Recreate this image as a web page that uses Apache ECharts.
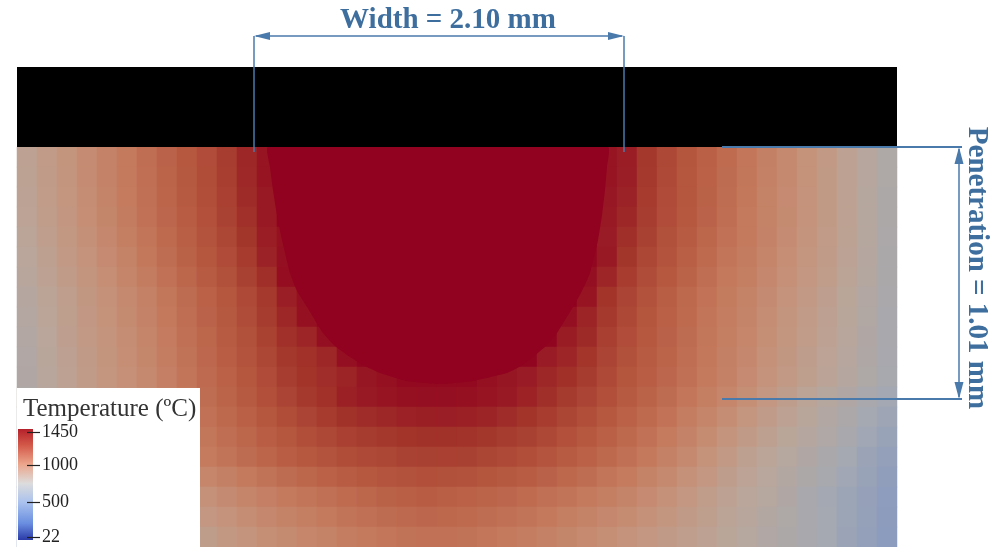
<!DOCTYPE html>
<html>
<head>
<meta charset="utf-8">
<script src="https://cdn.jsdelivr.net/npm/echarts/dist/echarts.min.js"></script>
<style>
html, body { margin: 0; padding: 0; background: #ffffff; }
#chart { width: 995px; height: 547px; }
</style>
</head>
<body>
<div id="chart"></div>
<script>
// Temperature (ºC) in the cross-section, one array per row of cells,
// from the top surface downwards; each row runs left to right.
const depth00 = [735, 790, 838, 890, 942, 997, 1048, 1098, 1148, 1198, 1262, 1340, 1395, 1450, 1450, 1450, 1450, 1450, 1450, 1450, 1450, 1450, 1450, 1450, 1450, 1450, 1450, 1450, 1450, 1395, 1370, 1282, 1216, 1162, 1112, 1062, 1012, 958, 907, 857, 800, 741, 680, 620];
const depth01 = [733, 786, 835, 890, 940, 994, 1045, 1095, 1145, 1195, 1258, 1336, 1392, 1450, 1450, 1450, 1450, 1450, 1450, 1450, 1450, 1450, 1450, 1450, 1450, 1450, 1450, 1450, 1450, 1392, 1365, 1279, 1213, 1160, 1110, 1060, 1010, 956, 905, 855, 798, 738, 676, 616];
const depth02 = [729, 781, 830, 885, 935, 989, 1040, 1090, 1140, 1190, 1251, 1326, 1385, 1450, 1450, 1450, 1450, 1450, 1450, 1450, 1450, 1450, 1450, 1450, 1450, 1450, 1450, 1450, 1450, 1388, 1355, 1272, 1206, 1155, 1105, 1055, 1005, 950, 900, 850, 795, 735, 673, 612];
const depth03 = [722, 775, 823, 877, 927, 980, 1033, 1083, 1133, 1183, 1242, 1313, 1380, 1450, 1450, 1450, 1450, 1450, 1450, 1450, 1450, 1450, 1450, 1450, 1450, 1450, 1450, 1450, 1450, 1385, 1340, 1262, 1198, 1148, 1098, 1048, 997, 947, 897, 848, 795, 735, 675, 612];
const depth04 = [712, 763, 812, 865, 915, 966, 1020, 1070, 1120, 1170, 1226, 1293, 1368, 1405, 1450, 1450, 1450, 1450, 1450, 1450, 1450, 1450, 1450, 1450, 1450, 1450, 1450, 1450, 1450, 1375, 1318, 1245, 1185, 1135, 1085, 1035, 993, 940, 890, 842, 790, 732, 672, 605];
const depth05 = [700, 750, 800, 850, 900, 950, 1005, 1055, 1105, 1155, 1206, 1272, 1355, 1410, 1450, 1450, 1450, 1450, 1450, 1450, 1450, 1450, 1450, 1450, 1450, 1450, 1450, 1450, 1435, 1385, 1293, 1226, 1170, 1120, 1070, 1020, 980, 930, 880, 832, 785, 728, 668, 600];
const depth06 = [685, 735, 785, 835, 880, 930, 983, 1035, 1085, 1135, 1185, 1245, 1318, 1417, 1450, 1450, 1450, 1450, 1450, 1450, 1450, 1450, 1450, 1450, 1450, 1450, 1450, 1450, 1410, 1345, 1265, 1200, 1150, 1100, 1050, 1000, 965, 917, 867, 822, 775, 720, 660, 597];
const depth07 = [665, 718, 765, 815, 860, 905, 955, 1010, 1060, 1110, 1160, 1213, 1279, 1365, 1410, 1450, 1450, 1450, 1450, 1450, 1450, 1450, 1450, 1450, 1450, 1450, 1450, 1450, 1395, 1300, 1232, 1175, 1125, 1075, 1025, 985, 945, 895, 847, 800, 755, 705, 648, 592];
const depth08 = [656, 710, 758, 808, 853, 896, 944, 998, 1049, 1099, 1147, 1199, 1268, 1342, 1405, 1440, 1450, 1450, 1450, 1450, 1450, 1450, 1450, 1450, 1450, 1450, 1450, 1410, 1350, 1278, 1215, 1162, 1115, 1067, 1018, 976, 934, 884, 836, 790, 745, 696, 641, 587];
const depth09 = [647, 702, 752, 801, 845, 887, 933, 986, 1038, 1088, 1135, 1184, 1243, 1313, 1345, 1410, 1450, 1450, 1450, 1450, 1450, 1450, 1450, 1450, 1450, 1450, 1440, 1372, 1330, 1256, 1198, 1149, 1104, 1059, 1011, 968, 923, 873, 826, 780, 735, 686, 633, 581];
const depth10 = [638, 693, 745, 793, 838, 879, 921, 975, 1027, 1077, 1122, 1170, 1224, 1282, 1310, 1340, 1410, 1440, 1450, 1450, 1450, 1450, 1450, 1450, 1450, 1440, 1375, 1345, 1294, 1235, 1181, 1135, 1094, 1050, 1003, 959, 911, 861, 815, 769, 724, 677, 626, 576];
const depth11 = [629, 685, 739, 786, 830, 870, 910, 963, 1016, 1066, 1110, 1155, 1206, 1261, 1300, 1320, 1350, 1390, 1405, 1430, 1430, 1430, 1430, 1405, 1390, 1375, 1340, 1312, 1267, 1213, 1164, 1122, 1083, 1042, 996, 951, 900, 850, 805, 759, 714, 667, 618, 570];
const depth12 = [620, 677, 732, 779, 823, 861, 899, 951, 1005, 1055, 1097, 1141, 1188, 1235, 1279, 1310, 1359, 1382, 1395, 1405, 1410, 1410, 1405, 1395, 1380, 1354, 1316, 1276, 1235, 1188, 1140, 1100, 1060, 1015, 970, 925, 875, 820, 770, 720, 675, 630, 585, 545];
const depth13 = [594, 649, 703, 752, 799, 841, 882, 933, 985, 1033, 1073, 1114, 1156, 1197, 1235, 1270, 1305, 1325, 1343, 1358, 1364, 1365, 1361, 1347, 1324, 1300, 1266, 1229, 1193, 1150, 1107, 1067, 1025, 978, 932, 885, 833, 783, 737, 692, 648, 605, 558, 518];
const depth14 = [567, 620, 673, 726, 776, 820, 865, 914, 964, 1010, 1048, 1087, 1123, 1159, 1192, 1221, 1250, 1269, 1285, 1300, 1305, 1307, 1303, 1289, 1268, 1247, 1215, 1182, 1152, 1113, 1073, 1033, 990, 942, 893, 845, 792, 747, 703, 663, 622, 580, 532, 492];
const depth15 = [541, 592, 644, 699, 752, 800, 848, 896, 944, 988, 1024, 1060, 1091, 1121, 1148, 1172, 1196, 1212, 1226, 1241, 1247, 1249, 1244, 1230, 1212, 1193, 1165, 1135, 1110, 1075, 1040, 1000, 955, 905, 855, 805, 750, 710, 670, 635, 595, 555, 505, 465];
const depth16 = [494, 540, 587, 634, 682, 730, 778, 826, 874, 925, 960, 995, 1027, 1059, 1084, 1108, 1131, 1150, 1166, 1179, 1188, 1185, 1176, 1163, 1147, 1128, 1104, 1078, 1053, 1020, 988, 950, 908, 863, 817, 770, 725, 690, 651, 610, 570, 533, 490, 450];
const depth17 = [446, 488, 529, 569, 612, 660, 708, 756, 804, 862, 895, 929, 963, 997, 1020, 1043, 1065, 1088, 1105, 1116, 1128, 1120, 1108, 1095, 1082, 1063, 1042, 1021, 995, 965, 935, 900, 860, 820, 778, 735, 700, 670, 632, 585, 545, 510, 475, 435];
const depth18 = [431, 469, 507, 547, 588, 632, 676, 722, 768, 818, 852, 887, 918, 948, 972, 997, 1021, 1042, 1059, 1072, 1082, 1079, 1068, 1055, 1039, 1021, 998, 974, 948, 920, 892, 861, 827, 793, 757, 720, 686, 655, 621, 583, 549, 508, 470, 430];
const depth19 = [416, 449, 484, 524, 564, 604, 644, 687, 731, 773, 809, 845, 872, 898, 924, 950, 976, 995, 1013, 1028, 1035, 1037, 1027, 1014, 996, 978, 953, 927, 901, 875, 849, 821, 793, 765, 735, 704, 671, 640, 610, 580, 552, 505, 465, 425];

const fieldRows = [depth00, depth01, depth02, depth03, depth04, depth05, depth06, depth07, depth08, depth09,
                   depth10, depth11, depth12, depth13, depth14, depth15, depth16, depth17, depth18, depth19];

// Outline of the fused zone (≥ 1450 ºC), in cell units: column position and depth
const poolEdgeCol = [12.55, 12.65, 12.8, 13.0, 13.25, 13.65, 14.0, 14.5, 15.3, 15.9, 16.65, 17.4, 18.15, 19.5, 21.15,
                     22.8, 24.5, 25.2, 25.8, 26.45, 27.0, 27.8, 28.25, 28.65, 29.05, 29.25, 29.4, 29.5, 29.55];
const poolEdgeRow = [0, 1, 2.15, 3.4, 4.65, 6.3, 7.2, 8.0, 9.3, 9.95, 10.5, 10.95, 11.3, 11.7, 11.85,
                     11.7, 11.3, 10.95, 10.5, 9.95, 9.3, 8.0, 7.2, 6.3, 4.65, 3.4, 2.15, 1, 0];

// Colour bar of the legend
const legendTitle = 'Temperature (ºC)';
const legendTicks = [1450, 1000, 500, 22];
const legendMin = 22;
const legendMax = 1450;

// Bead dimensions
const widthLabel = 'Width = 2.10 mm';
const penetrationLabel = 'Penetration = 1.01 mm';

const nCols = fieldRows[0].length;
const nRows = fieldRows.length;
const xCats = Array.from({ length: nCols }, (_, i) => String(i));
const yCats = Array.from({ length: nRows }, (_, j) => String(j));
const cells = [];
fieldRows.forEach((row, j) => row.forEach((v, i) => cells.push([i, j, v])));
const poolPoints = poolEdgeCol.map((c, k) => [c, poolEdgeRow[k]]);

// field colours (shaded cool-to-warm ramp) for 400 … 1450 ºC
const fieldColors = ['#8799c0', '#a4a9b2', '#baa69a', '#c5937b', '#c4795c', '#b65840', '#a2342a', '#90021f'];
const poolColor = '#90021f';

// layout of the section
const plotLeft = 17, plotTop = 147, plotW = 880, plotH = 400;
const dimColor = '#4a7aab';
const dimText = '#3d6e9e';
const serif = '"Liberation Serif", "DejaVu Serif", serif';

// legend geometry
const barX = 18, barW = 15, barTop = 432, barSpan = 105;
const tickY = v => barTop + (legendMax - v) / (legendMax - legendMin) * barSpan;

const graphics = [];
// substrate shown in black above the section
graphics.push({ type: 'rect', z: 50, shape: { x: plotLeft, y: 67, width: plotW, height: 80 }, style: { fill: '#000000' } });

// width dimension
graphics.push({ type: 'line', z: 60, shape: { x1: 254, y1: 36, x2: 254, y2: 152 }, style: { stroke: dimColor, lineWidth: 1.5 } });
graphics.push({ type: 'line', z: 60, shape: { x1: 624, y1: 36, x2: 624, y2: 152 }, style: { stroke: dimColor, lineWidth: 1.5 } });
graphics.push({ type: 'line', z: 60, shape: { x1: 256, y1: 36, x2: 622, y2: 36 }, style: { stroke: dimColor, lineWidth: 1.5 } });
graphics.push({ type: 'polygon', z: 60, shape: { points: [[254, 36], [270, 32], [270, 40]] }, style: { fill: dimColor } });
graphics.push({ type: 'polygon', z: 60, shape: { points: [[624, 36], [608, 32], [608, 40]] }, style: { fill: dimColor } });
graphics.push({ type: 'text', z: 60, x: 448, y: 21, style: { text: widthLabel, font: 'bold 29px ' + serif, fill: dimText, textAlign: 'center', textVerticalAlign: 'middle' } });

// penetration dimension
graphics.push({ type: 'line', z: 60, shape: { x1: 722, y1: 147, x2: 962, y2: 147 }, style: { stroke: dimColor, lineWidth: 2 } });
graphics.push({ type: 'line', z: 60, shape: { x1: 722, y1: 399, x2: 962, y2: 399 }, style: { stroke: dimColor, lineWidth: 2 } });
graphics.push({ type: 'line', z: 60, shape: { x1: 959, y1: 149, x2: 959, y2: 397 }, style: { stroke: dimColor, lineWidth: 1.5 } });
graphics.push({ type: 'polygon', z: 60, shape: { points: [[959, 147], [954.5, 164], [963.5, 164]] }, style: { fill: dimColor } });
graphics.push({ type: 'polygon', z: 60, shape: { points: [[959, 399], [954.5, 382], [963.5, 382]] }, style: { fill: dimColor } });
graphics.push({ type: 'text', z: 60, x: 976, y: 268, rotation: -Math.PI / 2, style: { text: penetrationLabel, font: 'bold 29px ' + serif, fill: dimText, textAlign: 'center', textVerticalAlign: 'middle' } });

// legend box with colour bar
graphics.push({ type: 'rect', z: 70, shape: { x: plotLeft, y: 388, width: 183, height: 159 }, style: { fill: '#ffffff' } });
graphics.push({ type: 'text', z: 71, x: 23, y: 409, style: { text: legendTitle, font: '25px ' + serif, fill: '#333333', textAlign: 'left', textVerticalAlign: 'middle' } });
graphics.push({
  type: 'rect', z: 71,
  shape: { x: barX, y: barTop - 3, width: barW, height: barSpan + 6 },
  style: {
    fill: new echarts.graphic.LinearGradient(0, 0, 0, 1, [
      { offset: 0, color: '#b5202b' },
      { offset: 0.15, color: '#d45a4a' },
      { offset: 0.315, color: '#eba48a' },
      { offset: 0.49, color: '#dcdcdc' },
      { offset: 0.665, color: '#a9c1ee' },
      { offset: 0.85, color: '#6a8ee0' },
      { offset: 1, color: '#2b3aa8' }
    ])
  }
});
legendTicks.forEach(v => {
  const y = Math.round(tickY(v)) + 0.5;
  graphics.push({ type: 'line', z: 72, shape: { x1: 27, y1: y, x2: 40, y2: y }, style: { stroke: '#222222', lineWidth: 1.2 } });
  graphics.push({ type: 'text', z: 72, x: 42, y: y, style: { text: String(v), font: '18px ' + serif, fill: '#222222', textAlign: 'left', textVerticalAlign: 'middle' } });
});

const chart = echarts.init(document.getElementById('chart'), null, { renderer: 'canvas' });
chart.setOption({
  animation: false,
  backgroundColor: '#ffffff',
  grid: { left: plotLeft, top: plotTop, width: plotW, height: plotH, containLabel: false },
  xAxis: [
    { type: 'category', data: xCats, show: false },
    { type: 'value', min: 0, max: nCols, show: false }
  ],
  yAxis: [
    { type: 'category', data: yCats, inverse: true, show: false },
    { type: 'value', min: 0, max: nRows, inverse: true, show: false }
  ],
  visualMap: {
    type: 'continuous', show: false, min: 400, max: 1450, dimension: 2, seriesIndex: 0,
    inRange: { color: fieldColors }
  },
  series: [
    {
      type: 'heatmap',
      data: cells,
      progressive: 0,
      itemStyle: { borderWidth: 0 },
      emphasis: { disabled: true }
    },
    {
      // fused zone drawn as one filled outline
      type: 'custom',
      xAxisIndex: 1,
      yAxisIndex: 1,
      silent: true,
      z: 3,
      data: poolPoints,
      renderItem: (params, api) => {
        if (params.dataIndex !== 0) return null;
        const pts = poolPoints.map(p => api.coord(p));
        return { type: 'polygon', shape: { points: pts, smooth: 0.15 }, style: { fill: poolColor } };
      }
    }
  ],
  graphic: { elements: graphics }
});
</script>
</body>
</html>
